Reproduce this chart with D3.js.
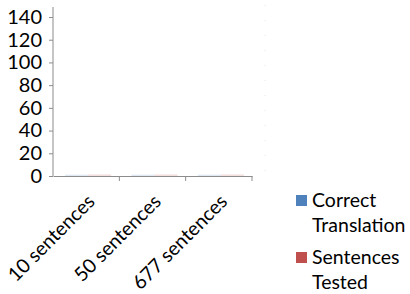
<!DOCTYPE html>
<html lang="en">
<head>
  <meta charset="UTF-8">
  <title>Sentences chart</title>
  <script src="https://d3js.org/d3.v7.min.js"></script>
  <style>
    body { margin: 0; background: #fff; }
    svg { display: block; }
    text { font-family: Lato, "Open Sans", sans-serif; fill: #000; }
  </style>
</head>
<body>
<svg id="chart" width="410" height="294"></svg>
<script>
  const categories = ["10 sentences", "50 sentences", "677 sentences"];
  const correctTranslation = [1.2, 1.2, 1.2];
  const sentencesTested = [1.4, 1.4, 1.4];
  const yTicks = [0, 20, 40, 60, 80, 100, 120, 140];
  const seriesNames = [["Correct", "Translation"], ["Sentences", "Tested"]];
  const seriesColors = ["#4F81BD", "#C0504D"];

  const width = 410, height = 294;
  const margin = { top: 7, left: 53, bottom: 176, right: 252 };

  const svg = d3.select("#chart");
  const axisColor = "#8c8c8c";

  const x = d3.scaleBand()
    .domain(categories)
    .range([margin.left, margin.right]);

  const xSeries = d3.scaleBand()
    .domain([0, 1])
    .range([0, 46]);

  const y = d3.scaleLinear()
    .domain([0, 140])
    .range([margin.bottom, 17]);

  // faint right-hand dotted guide
  svg.append("line")
    .attr("x1", 265).attr("x2", 265)
    .attr("y1", 5).attr("y2", y(0))
    .attr("stroke", "#e4e4e4")
    .attr("stroke-dasharray", "1,14");

  // bars
  const data = categories.map((c, i) => ({ cat: c, vals: [correctTranslation[i], sentencesTested[i]] }));
  const groups = svg.append("g").selectAll("g")
    .data(data)
    .join("g")
    .attr("transform", d => `translate(${x(d.cat) + (x.bandwidth() - 46) / 2 + 2},0)`);

  groups.selectAll("rect")
    .data(d => d.vals.map((v, k) => ({ v, k })))
    .join("rect")
    .attr("x", d => xSeries(d.k))
    .attr("width", xSeries.bandwidth())
    .attr("y", d => y(d.v))
    .attr("height", d => y(0) - y(d.v))
    .attr("fill", d => seriesColors[d.k])
    .attr("fill-opacity", 0.18);

  // y axis
  const yAxis = svg.append("g")
    .attr("transform", `translate(${margin.left},0)`)
    .call(d3.axisLeft(y).tickValues(yTicks).tickSize(4).tickPadding(7));
  yAxis.select(".domain").remove();
  yAxis.append("line")
    .attr("x1", 0).attr("x2", 0)
    .attr("y1", margin.top).attr("y2", y(0))
    .attr("stroke", axisColor);
  yAxis.selectAll(".tick line").attr("stroke", axisColor);
  yAxis.selectAll(".tick text")
    .style("font-size", "20px")
    .attr("fill", "#000");

  // x axis
  const xAxis = svg.append("g")
    .attr("transform", `translate(0,${y(0)})`)
    .call(d3.axisBottom(x).tickSize(0).tickPadding(14));
  xAxis.select(".domain").attr("stroke", axisColor);
  xAxis.selectAll(".tick line").remove();
  xAxis.selectAll(".sep")
    .data(categories)
    .join("line")
    .attr("class", "sep")
    .attr("x1", d => x(d) + x.bandwidth())
    .attr("x2", d => x(d) + x.bandwidth())
    .attr("y1", 0).attr("y2", 5)
    .attr("stroke", axisColor);
  xAxis.selectAll(".tick text")
    .style("font-size", "19.5px")
    .attr("fill", "#000")
    .attr("text-anchor", "end")
    .attr("dy", "0.35em")
    .attr("transform", "translate(-5,12) rotate(-45)");

  // legend
  const legend = svg.append("g");
  const legendTop = [195, 252];
  seriesNames.forEach((lines, i) => {
    legend.append("rect")
      .attr("x", 296).attr("y", legendTop[i])
      .attr("width", 11).attr("height", 11)
      .attr("fill", seriesColors[i]);
    lines.forEach((t, j) => {
      legend.append("text")
        .attr("x", 312)
        .attr("y", legendTop[i] + 12 + j * 25)
        .style("font-size", "19.5px")
        .text(t);
    });
  });
</script>
</body>
</html>
